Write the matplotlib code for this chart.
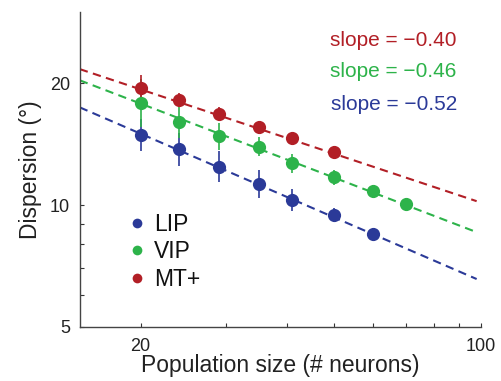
"""Dispersion vs population size for LIP, VIP and MT+ (log-log)"""

import numpy as np
import matplotlib.pyplot as plt
from matplotlib.lines import Line2D
from matplotlib.ticker import FixedLocator, NullFormatter

plt.rcParams["font.family"] = ["Liberation Sans", "DejaVu Sans"]

# population sizes (# neurons)
pop_sizes = [20, 24, 29, 35, 41, 50, 60, 70]

# mean dispersion (deg) and error bar bounds
lip_mean = [14.9, 13.75, 12.4, 11.3, 10.3, 9.45, 8.5]
lip_low = [13.6, 12.5, 11.4, 10.4, 9.67, 9.08, 8.35]
lip_high = [16.3, 15.1, 13.6, 12.2, 10.95, 9.83, 8.65]

vip_mean = [17.9, 16.05, 14.8, 13.9, 12.7, 11.7, 10.85, 10.05]
vip_low = [15.6, 14.6, 13.7, 13.2, 12.0, 11.2, 10.6, 9.9]
vip_high = [20.5, 17.7, 15.9, 14.7, 13.4, 12.2, 11.1, 10.2]

mt_mean = [19.5, 18.2, 16.8, 15.55, 14.65, 13.55]
mt_low = [18.2, 17.5, 16.2, 15.1, 14.4, 13.4]
mt_high = [20.9, 18.9, 17.5, 16.0, 14.9, 13.7]

# power-law fits: value at 20 neurons and slope
fit_at20 = {"LIP": 15.0, "VIP": 17.8, "MT+": 19.3}
fit_slope = {"LIP": -0.52, "VIP": -0.46, "MT+": -0.40}

colors = {"LIP": "#2b3a98", "VIP": "#2db34a", "MT+": "#b21f26"}


def main():
    fig = plt.figure(figsize=(5.02, 3.81), dpi=100)
    ax = fig.add_axes([0.159, 0.142, 0.799, 0.827])
    ax.set_xscale("log")
    ax.set_yscale("log")

    series = [
        ("LIP", lip_mean, lip_low, lip_high),
        ("VIP", vip_mean, vip_low, vip_high),
        ("MT+", mt_mean, mt_low, mt_high),
    ]
    xfit = np.array([15, 98])
    for name, mean, low, high in series:
        c = colors[name]
        yfit = fit_at20[name] * (xfit / 20.0) ** fit_slope[name]
        ax.plot(xfit, yfit, color=c, lw=1.5, dashes=(4, 2.6), zorder=1)
    for name, mean, low, high in series:
        c = colors[name]
        x = np.array(pop_sizes[:len(mean)])
        m = np.array(mean)
        yerr = [m - np.array(low), np.array(high) - m]
        ax.errorbar(x, m, yerr=yerr, fmt="o", color=c, ms=9.5, lw=1.2,
                    capsize=0, mew=0, zorder=3)

    ax.set_xlim(15, 100)
    ax.set_ylim(5, 30)
    ax.xaxis.set_major_locator(FixedLocator([20, 100]))
    ax.xaxis.set_minor_locator(FixedLocator([30, 40, 50, 60, 70, 80, 90]))
    ax.set_xticklabels(["20", "100"])
    ax.yaxis.set_major_locator(FixedLocator([5, 10, 20]))
    ax.yaxis.set_minor_locator(FixedLocator([6, 7, 8, 9]))
    ax.set_yticklabels(["5", "10", "20"])
    ax.xaxis.set_minor_formatter(NullFormatter())
    ax.yaxis.set_minor_formatter(NullFormatter())
    ax.tick_params(which="both", direction="in", labelsize=13,
                   colors="#333333", labelcolor="#222222", width=0.8)
    ax.tick_params(axis="x", which="major", length=3, pad=8)
    ax.tick_params(axis="y", which="major", length=3, pad=7)
    ax.tick_params(which="minor", length=3)

    for side in ["top", "right"]:
        ax.spines[side].set_visible(False)
    for side in ["left", "bottom"]:
        ax.spines[side].set_color("#444444")
        ax.spines[side].set_linewidth(1.0)

    ax.set_xlabel("Population size (# neurons)", fontsize=16.5,
                  color="#222222", labelpad=-1)
    ax.set_ylabel("Dispersion (°)", fontsize=16.5, color="#222222",
                  labelpad=6)

    ypos = {"MT+": 0.909, "VIP": 0.809, "LIP": 0.707}
    for name in ["MT+", "VIP", "LIP"]:
        ax.text(0.94, ypos[name], "slope = \u2212%.2f" % abs(fit_slope[name]),
                transform=ax.transAxes, ha="right", va="center",
                fontsize=15, color=colors[name])

    handles = [Line2D([], [], ls="none", marker="o", ms=7, mew=0,
                      color=colors[n]) for n in ["LIP", "VIP", "MT+"]]
    leg = ax.legend(handles, ["LIP", "VIP", "MT+"], loc="upper left",
                    bbox_to_anchor=(0.12, 0.363), frameon=False,
                    fontsize=16.5, handlelength=0.8,
                    handletextpad=0.35, labelspacing=0.2, borderpad=0,
                    borderaxespad=0)
    for t in leg.get_texts():
        t.set_color("#111111")

    fig.savefig("out.png", dpi=100)


if __name__ == '__main__':
    main()
